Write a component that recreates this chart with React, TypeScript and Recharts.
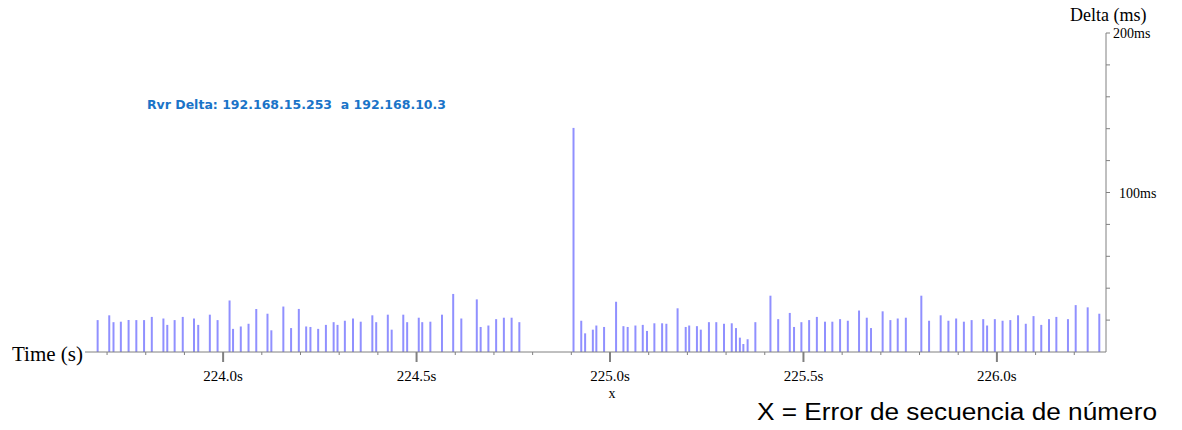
import React from 'react';
import { BarChart, Bar, XAxis, YAxis } from 'recharts';

const times = [
  223.675, 223.705, 223.716, 223.735, 223.755, 223.775, 223.795, 223.815, 223.845, 223.855,
  223.874, 223.895, 223.924, 223.935, 223.965, 223.985, 224.016, 224.025, 224.045, 224.065,
  224.085, 224.114, 224.124, 224.155, 224.175, 224.195, 224.214, 224.225, 224.245, 224.265,
  224.285, 224.295, 224.314, 224.335, 224.355, 224.385, 224.395, 224.425, 224.435, 224.465,
  224.475, 224.505, 224.514, 224.535, 224.565, 224.594, 224.615, 224.655, 224.665, 224.685,
  224.705, 224.725, 224.745, 224.765, 224.905, 224.925, 224.935, 224.955, 224.964, 224.984,
  225.015, 225.034, 225.045, 225.065, 225.084, 225.095, 225.114, 225.134, 225.145, 225.174,
  225.195, 225.204, 225.224, 225.234, 225.255, 225.274, 225.294, 225.314, 225.325, 225.335,
  225.344, 225.355, 225.375, 225.414, 225.434, 225.464, 225.475, 225.494, 225.514, 225.534,
  225.555, 225.574, 225.594, 225.614, 225.643, 225.663, 225.674, 225.704, 225.724, 225.743,
  225.764, 225.804, 225.824, 225.854, 225.874, 225.894, 225.914, 225.934, 225.964, 225.974,
  225.994, 226.014, 226.034, 226.054, 226.074, 226.094, 226.114, 226.134, 226.153, 226.183,
  226.203, 226.234, 226.264,
];

const deltas = [
  20, 23, 18.7, 19, 20, 20, 20, 22, 21, 17,
  20, 22, 21, 17, 23.4, 20, 32.3, 14.5, 16, 17.7,
  27, 24, 13.6, 28.5, 15, 27, 16, 15.7, 14.5, 17,
  18.7, 17, 19.6, 21, 19, 23, 18.7, 23.4, 14, 23.4,
  18.7, 21.5, 18.7, 19, 23.4, 36.4, 21, 33, 15.7, 16.6,
  20.6, 21.5, 21.5, 18.7, 140.5, 19.6, 11.7, 14, 16.6, 15.7,
  31.5, 16.2, 15.7, 16.6, 17, 13.2, 18, 18, 17.7, 27.4,
  15.7, 16.6, 16.2, 14, 18.7, 18.7, 17.7, 18, 15, 9,
  5, 8, 18.7, 35.3, 20.6, 24.5, 15.7, 18.7, 20, 22,
  19, 19, 20.6, 19.6, 26, 21.5, 15, 25.5, 20, 21,
  21.5, 35.3, 19.6, 23, 19.6, 21, 19, 20, 20.6, 16.6,
  20.6, 19.6, 20, 23, 17.7, 22.5, 17, 20.6, 22, 20.6,
  29.4, 28, 24,
];

const xTicks = [
  223.7, 223.8, 223.9, 224.0, 224.1, 224.2, 224.3, 224.4, 224.5, 224.6, 224.7, 224.8, 224.9,
  225.0, 225.1, 225.2, 225.3, 225.4, 225.5, 225.6, 225.7, 225.8, 225.9, 226.0, 226.1, 226.2,
];
const yTicks = [0, 20, 40, 60, 80, 100, 120, 140, 160, 180, 200];
const yLabelled = [100, 200];

const data = times.map((t, i) => ({ t, delta: deltas[i] }));

const serif = '"Liberation Serif", "DejaVu Serif", serif';
const sans = '"Liberation Sans", Arial, sans-serif';

function TimeTick(props: any) {
  const { x, y, payload } = props;
  const v = payload.value;
  const major = Math.abs(v * 2 - Math.round(v * 2)) < 1e-6;
  if (!major) {
    return <line x1={x} x2={x} y1={y} y2={y + 3} stroke="#808080" />;
  }
  return (
    <g>
      <line x1={x} x2={x} y1={y} y2={y + 10} stroke="#808080" strokeWidth={2} />
      <text x={x} y={y + 29} textAnchor="middle" fontFamily={serif} fontSize={15} fill="#000">
        {v.toFixed(1)}s
      </text>
    </g>
  );
}

function DeltaTick(props: any) {
  const { x, y, payload } = props;
  const v = payload.value;
  if (v === 0) return <g />;
  return (
    <g>
      <line x1={x} x2={x + 4} y1={y} y2={y} stroke="#808080" />
      {yLabelled.includes(v) && (
        <text x={x + (v === 200 ? 7 : 13)} y={y + 5} fontFamily={serif} fontSize={14} fill="#000">
          {v}ms
        </text>
      )}
    </g>
  );
}

export default function App() {
  return (
    <div style={{ position: 'absolute', left: 0, top: 0, width: 1182, height: 430, background: '#fff' }}>
      <BarChart
        width={1182}
        height={430}
        data={data}
        margin={{ top: 33, right: 16, bottom: 38, left: 85 }}
      >
        <XAxis
          dataKey="t"
          type="number"
          domain={[223.643, 226.282]}
          allowDataOverflow
          ticks={xTicks}
          interval={0}
          height={40}
          tickSize={0}
          tickMargin={0}
          tickLine={false}
          axisLine={{ stroke: '#808080' }}
          tick={<TimeTick />}
        />
        <YAxis
          orientation="right"
          type="number"
          domain={[0, 200]}
          ticks={yTicks}
          interval={0}
          width={60}
          tickSize={0}
          tickMargin={0}
          tickLine={false}
          axisLine={{ stroke: '#808080' }}
          tick={<DeltaTick />}
        />
        <Bar dataKey="delta" fill="#9090ff" barSize={2} isAnimationActive={false} />
      </BarChart>
      <svg
        width={1182}
        height={430}
        style={{ position: 'absolute', left: 0, top: 0, pointerEvents: 'none' }}
      >
        <text x={1070} y={21} fontFamily={serif} fontSize={18} fill="#000">Delta (ms)</text>
        <text x={83} y={361} textAnchor="end" fontFamily={serif} fontSize={21} fill="#000">Time (s)</text>
        <text
          x={147}
          y={109}
          fontFamily='"DejaVu Sans", Verdana, sans-serif'
          fontSize={12}
          fontWeight="bold"
          fill="#1a74c8"
          textLength={299}
          lengthAdjust="spacingAndGlyphs"
        >
          Rvr Delta: 192.168.15.253{'\u00a0\u00a0'}a 192.168.10.3
        </text>
        <text x={612} y={398} textAnchor="middle" fontFamily={serif} fontSize={14} fill="#000">x</text>
        <text
          x={757}
          y={420}
          fontFamily={sans}
          fontSize={23}
          fill="#000"
          textLength={400}
          lengthAdjust="spacingAndGlyphs"
        >
          X = Error de secuencia de número
        </text>
      </svg>
    </div>
  );
}
